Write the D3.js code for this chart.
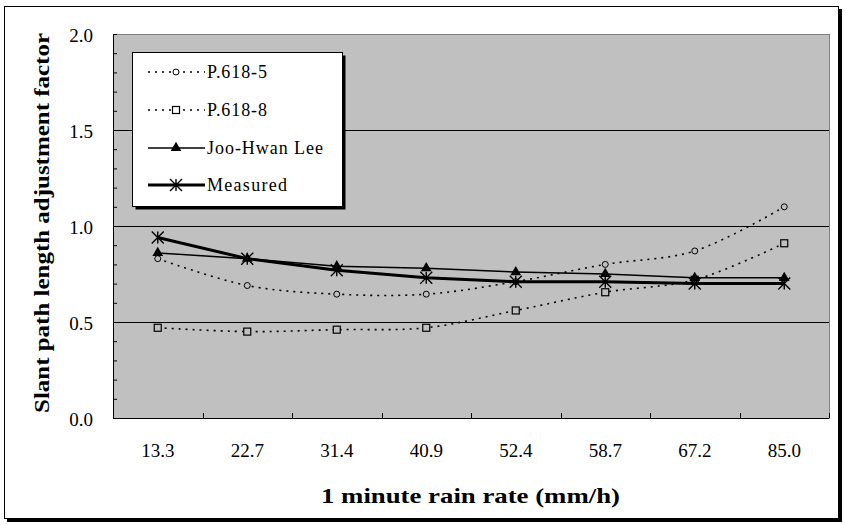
<!DOCTYPE html>
<html>
<head>
<meta charset="utf-8">
<script src="https://cdn.jsdelivr.net/npm/d3@7"></script>
<style>
  html, body { margin: 0; padding: 0; background: #fff; }
  svg { display: block; }
</style>
</head>
<body>
<svg id="chart" width="845" height="525"></svg>
<script>
// Rain-rate categories (mm/h)
const categories = ["13.3", "22.7", "31.4", "40.9", "52.4", "58.7", "67.2", "85.0"];

// Slant path length adjustment factor per model
const p6185 = [0.83, 0.69, 0.645, 0.645, 0.71, 0.80, 0.87, 1.10];
const p6188 = [0.47, 0.45, 0.46, 0.47, 0.56, 0.655, 0.72, 0.91];
const jooHwanLee = [0.86, 0.83, 0.79, 0.78, 0.76, 0.75, 0.73, 0.73];
const measured = [0.94, 0.83, 0.77, 0.73, 0.71, 0.71, 0.70, 0.70];

const yTicks = [0.0, 0.5, 1.0, 1.5, 2.0];
const seriesNames = ["P.618-5", "P.618-8", "Joo-Hwan Lee", "Measured"];

const FONT = "Liberation Serif";
const svg = d3.select("#chart");
const W = 845, H = 525;
const plot = { left: 113, right: 829, top: 34, bottom: 418 };

// Outer frame with drop shadow
svg.append("rect").attr("x", 7).attr("y", 9).attr("width", W - 10).attr("height", H - 12).attr("fill", "#000");
svg.append("rect").attr("x", 4.5).attr("y", 6.5).attr("width", W - 11).attr("height", H - 13)
  .attr("fill", "#fff").attr("stroke", "#000").attr("stroke-width", 1);

const x = d3.scaleBand().domain(categories).range([plot.left, plot.right]).padding(0);
const y = d3.scaleLinear().domain([0, 2]).range([plot.bottom, plot.top]);

// Plot area
svg.append("rect")
  .attr("x", plot.left + 0.5).attr("y", plot.top + 0.5)
  .attr("width", plot.right - plot.left).attr("height", plot.bottom - plot.top)
  .attr("fill", "#c0c0c0").attr("stroke", "#808080").attr("stroke-width", 1);

// Horizontal gridlines
svg.append("g").selectAll("line").data([0.5, 1.0, 1.5]).join("line")
  .attr("x1", plot.left).attr("x2", plot.right)
  .attr("y1", d => Math.round(y(d)) + 0.5).attr("y2", d => Math.round(y(d)) + 0.5)
  .attr("stroke", "#000").attr("stroke-width", 1);

// Y axis with minor ticks every 0.1 pointing into the plot
const yAxis = d3.axisRight(y).tickValues(d3.range(0, 2.01, 0.1)).tickSize(4).tickFormat("");
const yg = svg.append("g").attr("transform", `translate(${plot.left},0)`).call(yAxis);
yg.select(".domain").attr("stroke", "#000");
yg.selectAll("line").attr("stroke", "#000");

// Y tick labels
svg.append("g").selectAll("text").data(yTicks).join("text")
  .attr("x", 93).attr("y", d => y(d) + 8)
  .attr("text-anchor", "end").attr("font-size", 19).attr("font-family", FONT)
  .text(d => d3.format(".1f")(d));

// X axis: ticks at category boundaries pointing up
const bounds = categories.map(c => x(c)).concat([x.range()[1]]);
const xg = svg.append("g");
xg.append("line").attr("x1", plot.left).attr("x2", plot.right)
  .attr("y1", plot.bottom + 0.5).attr("y2", plot.bottom + 0.5).attr("stroke", "#000");
xg.selectAll("line.t").data(bounds).join("line").attr("class", "t")
  .attr("x1", d => Math.round(d) + 0.5).attr("x2", d => Math.round(d) + 0.5)
  .attr("y1", plot.bottom).attr("y2", plot.bottom - 5).attr("stroke", "#000");
xg.selectAll("text").data(categories).join("text")
  .attr("x", d => x(d) + x.bandwidth() / 2).attr("y", 456.5)
  .attr("text-anchor", "middle").attr("font-size", 19).attr("font-family", FONT)
  .text(d => d);

// Axis titles
svg.append("text").attr("x", 470.5).attr("y", 503)
  .attr("text-anchor", "middle").attr("font-size", 22).attr("font-weight", "bold").attr("font-family", FONT)
  .attr("textLength", 299).attr("lengthAdjust", "spacingAndGlyphs")
  .text("1 minute rain rate (mm/h)");
svg.append("text")
  .attr("transform", `translate(49,223) rotate(-90)`)
  .attr("text-anchor", "middle").attr("font-size", 21).attr("font-weight", "bold").attr("font-family", FONT)
  .attr("textLength", 380).attr("lengthAdjust", "spacingAndGlyphs")
  .text("Slant path length adjustment factor");

const cx = (d, i) => x(categories[i]) + x.bandwidth() / 2;

// Marker drawing helper
function drawMarker(g, type, px, py, fill) {
  if (type === "circle") {
    g.append("circle").attr("cx", px).attr("cy", py).attr("r", 3)
      .attr("fill", fill).attr("stroke", "#000").attr("stroke-width", 1);
  } else if (type === "square") {
    g.append("rect").attr("x", px - 3.5).attr("y", py - 3.5).attr("width", 7).attr("height", 7)
      .attr("fill", fill).attr("stroke", "#000").attr("stroke-width", 1.2);
  } else if (type === "triangle") {
    g.append("path").attr("d", d3.symbol(d3.symbolTriangle, 50)())
      .attr("transform", `translate(${px},${py})`).attr("fill", "#000");
  } else if (type === "star") {
    const r = 6;
    const d = `M${px},${py - r}L${px},${py + r}` +
      `M${px - r},${py - r}L${px + r},${py + r}` +
      `M${px - r},${py + r}L${px + r},${py - r}`;
    g.append("path").attr("d", d).attr("stroke", "#000").attr("stroke-width", 1.4).attr("fill", "none");
  }
}

const series = [
  { name: seriesNames[0], values: p6185, marker: "circle", width: 1.6, dash: "2,5", curve: d3.curveCatmullRom.alpha(0.5), textLen: 60 },
  { name: seriesNames[1], values: p6188, marker: "square", width: 1.6, dash: "2,5", curve: d3.curveCatmullRom.alpha(0.5), textLen: 60 },
  { name: seriesNames[2], values: jooHwanLee, marker: "triangle", width: 1.5, dash: null, curve: d3.curveLinear, textLen: 116 },
  { name: seriesNames[3], values: measured, marker: "star", width: 3, dash: null, curve: d3.curveLinear, textLen: 80 }
];

series.forEach(s => {
  const line = d3.line().x((d, i) => cx(d, i)).y(d => y(d)).curve(s.curve);
  svg.append("path").datum(s.values).attr("d", line)
    .attr("fill", "none").attr("stroke", "#000").attr("stroke-width", s.width)
    .attr("stroke-dasharray", s.dash);
  const mg = svg.append("g");
  s.values.forEach((v, i) => drawMarker(mg, s.marker, cx(v, i), y(v), "#c0c0c0"));
});

// Legend with shadow
const lg = svg.append("g");
const L = { x: 132.5, y: 52.5, w: 210, h: 154 };
lg.append("rect").attr("x", L.x + 3).attr("y", L.y + 3).attr("width", L.w).attr("height", L.h).attr("fill", "#000");
lg.append("rect").attr("x", L.x).attr("y", L.y).attr("width", L.w).attr("height", L.h)
  .attr("fill", "#fff").attr("stroke", "#000").attr("stroke-width", 1);
const rowY = [72, 110, 148, 185];
series.forEach((s, i) => {
  const ry = rowY[i];
  lg.append("line").attr("x1", 148).attr("x2", 205).attr("y1", ry).attr("y2", ry)
    .attr("stroke", "#000").attr("stroke-width", s.width).attr("stroke-dasharray", s.dash);
  drawMarker(lg, s.marker, 176, ry, "#fff");
  lg.append("text").attr("x", 207).attr("y", ry + 6)
    .attr("font-size", 18).attr("font-family", FONT)
    .attr("textLength", s.textLen).attr("lengthAdjust", "spacing")
    .text(s.name);
});
</script>
</body>
</html>
